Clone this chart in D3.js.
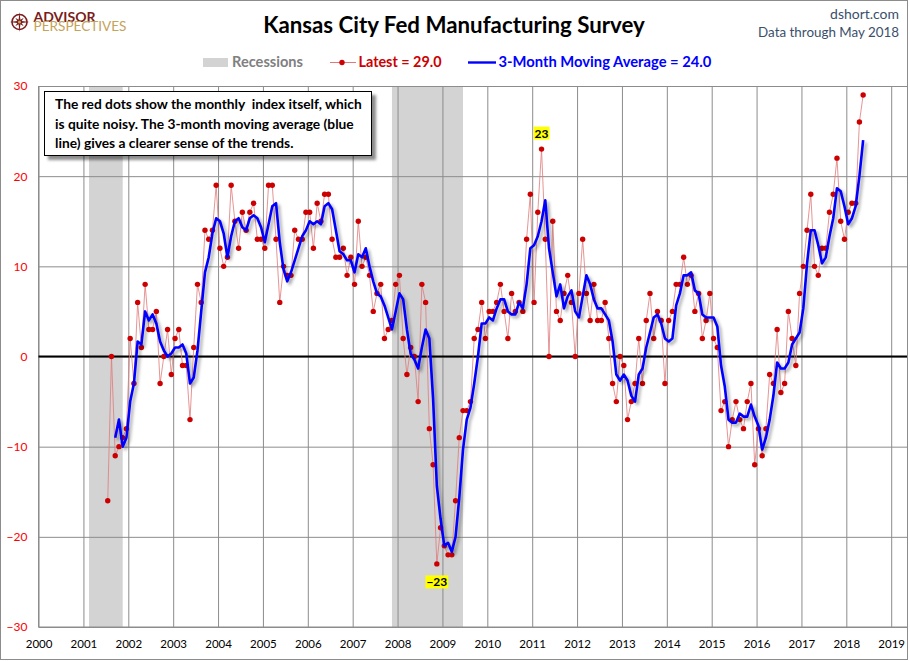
<!DOCTYPE html>
<html><head><meta charset="utf-8">
<script src="https://cdn.jsdelivr.net/npm/d3@7/dist/d3.min.js"></script>
<style>
body{margin:0;background:#fff}
svg{display:block}
text{font-family:Lato,"Open Sans","Noto Sans",sans-serif}
</style>
</head><body>
<svg id="chart" width="910" height="661"></svg>
<script>
// ---------------- DATA ----------------
const startYear = 2001, startMonth = 7;   // first observation: July 2001
// Kansas City Fed Manufacturing composite index, monthly
const values = [
  -16, 0, -11, -10, -9, -8,                       // 2001 (Jul-Dec)
  2, -3, 6, 1, 8, 3, 3, 5, -3, 0, 3, -2,          // 2002
  2, 3, -1, -1, -7, 1, 8, 6, 14, 13, 14, 19,      // 2003
  12, 10, 11, 19, 15, 12, 16, 14, 16, 17, 13, 13, // 2004
  12, 19, 19, 13, 6, 10, 9, 9, 14, 13, 13, 16,    // 2005
  16, 12, 17, 15, 18, 18, 13, 11, 11, 12, 9, 11,  // 2006
  8, 15, 10, 11, 9, 5, 7, 8, 2, 3, 4, 8,          // 2007
  9, 2, -2, 1, 0, -5, 8, 6, -8, -12, -23, -19,    // 2008
  -21, -22, -22, -16, -9, -6, -6, -5, 2, 3, 6, 2, // 2009
  5, 5, 6, 8, 5, 2, 7, 5, 6, 5, 13, 18,           // 2010
  6, 16, 23, 13, 0, 15, 5, 4, 7, 9, 6, 0,         // 2011
  7, 13, 7, 4, 8, 4, 4, 6, 2, -3, -5, 0,          // 2012
  -1, -7, -5, -3, 2, -3, 4, 7, 2, 5, 4, -3,       // 2013
  4, 5, 8, 8, 11, 8, 9, 5, 7, 2, 4, 7,            // 2014
  2, 1, -6, -5, -10, -7, -5, -7, -8, -5, -3, -12, // 2015
  -8, -11, -8, -2, -3, 3, -4, -3, 5, 2, -1, 7,    // 2016
  10, 14, 18, 10, 9, 12, 12, 16, 18, 22, 15, 13,  // 2017
  16, 17, 17, 26, 29                              // 2018 (Jan-May)
];
// NBER recessions: [peakYear, peakMonth, troughYear, troughMonth]
const recessions = [[2001, 3, 2001, 11], [2007, 12, 2009, 6]];
// highlighted observations: [year, month, placement]
const callouts = [[2011, 3, "above"], [2008, 11, "below"]];
const yTicks = [-30, -20, -10, 0, 10, 20, 30];
const xTicks = d3.range(2000, 2020);
const titleText = "Kansas City Fed Manufacturing Survey";
const noteLines = [
  "The red dots show the monthly  index itself, which",
  "is quite noisy. The 3-month moving average (blue",
  "line) gives a clearer sense of the trends."
];

// derived: 3-month moving average of the index (as defined in the legend)
const series = values.map((v, i) => ({
  t: startYear + (startMonth - 1 + i + 0.5) / 12,
  v: v,
  ma: i >= 2 ? (values[i] + values[i - 1] + values[i - 2]) / 3 : null
}));

// ---------------- LAYOUT ----------------
const svg = d3.select("#chart");
const P = {left: 38.5, right: 907, top: 86, bottom: 627};
const x = d3.scaleLinear().domain([2000, 2019]).range([38.55, 891.2]);
const y = d3.scaleLinear().domain([-30, 30]).range([P.bottom, P.top]);

const defs = svg.append("defs");
const sh = defs.append("filter").attr("id", "shadow").attr("x", "-5%").attr("y", "-5%").attr("width", "115%").attr("height", "115%");
sh.append("feDropShadow").attr("dx", 2.5).attr("dy", 2.5).attr("stdDeviation", 1.6)
  .attr("flood-color", "#000").attr("flood-opacity", 0.35);
const bsh = defs.append("filter").attr("id", "boxshadow").attr("x", "-5%").attr("y", "-10%").attr("width", "115%").attr("height", "130%");
bsh.append("feDropShadow").attr("dx", 4).attr("dy", 4).attr("stdDeviation", 1.5)
  .attr("flood-color", "#000").attr("flood-opacity", 0.45);
defs.append("clipPath").attr("id", "plotclip").append("rect")
  .attr("x", P.left).attr("y", P.top).attr("width", P.right - P.left).attr("height", P.bottom - P.top);

function fit(sel, w) {
  const L = sel.node().getComputedTextLength();
  const fs = parseFloat(sel.attr("font-size"));
  if (L > 0) sel.attr("font-size", fs * w / L);
  return sel;
}

// recession bands
const monthPos = (yr, m, off) => x(yr + (m - 1 + off) / 12);
svg.append("g").selectAll("rect").data(recessions).join("rect")
  .attr("x", d => monthPos(d[0], d[1], -0.5))
  .attr("width", d => monthPos(d[2], d[3], 0.5) - monthPos(d[0], d[1], -0.5))
  .attr("y", P.top).attr("height", P.bottom - P.top)
  .attr("fill", "#d3d3d3");

// gridlines + axes
const gx = svg.append("g").attr("transform", `translate(0,${P.bottom})`)
  .call(d3.axisBottom(x).tickValues(xTicks).tickFormat(d3.format("d"))
    .tickSize(-(P.bottom - P.top)).tickPadding(13));
gx.select(".domain").remove();
gx.selectAll("line").attr("stroke", "#8c8c8c");
gx.selectAll("text").attr("font-size", 11.5).attr("fill", "#000").attr("font-family", "Lato, sans-serif");

const gy = svg.append("g").attr("transform", `translate(${P.left},0)`)
  .call(d3.axisLeft(y).tickValues(yTicks).tickSize(-(P.right - P.left)).tickPadding(11));
gy.select(".domain").remove();
gy.selectAll("line").attr("stroke", "#8c8c8c");
gy.selectAll("text").attr("font-size", 12).attr("fill", "#ff0000").attr("font-family", "Lato, sans-serif");

// left and bottom axis lines
svg.append("line").attr("x1", P.left).attr("x2", P.left).attr("y1", P.top).attr("y2", P.bottom).attr("stroke", "#8c8c8c");
svg.append("line").attr("x1", P.left).attr("x2", P.right).attr("y1", P.bottom).attr("y2", P.bottom).attr("stroke", "#8c8c8c");
// zero line
svg.append("line").attr("x1", P.left).attr("x2", P.right).attr("y1", y(0)).attr("y2", y(0))
  .attr("stroke", "#000").attr("stroke-width", 2);

// series
const plot = svg.append("g").attr("clip-path", "url(#plotclip)");
plot.append("path").datum(series)
  .attr("d", d3.line().x(d => x(d.t)).y(d => y(d.v)))
  .attr("fill", "none").attr("stroke", "#e07a7a").attr("stroke-width", 1).attr("opacity", 0.8);
plot.append("g").selectAll("circle").data(series).join("circle")
  .attr("cx", d => x(d.t)).attr("cy", d => y(d.v)).attr("r", 2.7).attr("fill", "#cc0000");
plot.append("path").datum(series.filter(d => d.ma !== null))
  .attr("d", d3.line().x(d => x(d.t)).y(d => y(d.ma)))
  .attr("fill", "none").attr("stroke", "#0000ff").attr("stroke-width", 2.6)
  .attr("stroke-linejoin", "round").attr("filter", "url(#shadow)");

// callout labels
callouts.forEach(c => {
  const d = series[(c[0] - startYear) * 12 + (c[1] - startMonth)];
  const dy = c[2] === "above" ? -16 : 18;
  const g = svg.append("g");
  const t = g.append("text").attr("x", x(d.t)).attr("y", y(d.v) + dy)
    .attr("text-anchor", "middle").attr("dominant-baseline", "central")
    .attr("font-size", 12).attr("font-weight", "bold").attr("fill", "#000").text(d3.format("d")(d.v));
  const b = t.node().getBBox();
  g.insert("rect", "text").attr("x", b.x - 1).attr("y", y(d.v) + dy - 6.5)
    .attr("width", b.width + 2).attr("height", 13).attr("fill", "#ffff00");
});

// note box
const box = svg.append("g");
box.append("rect").attr("x", 44.5).attr("y", 91.5).attr("width", 327).attr("height", 64)
  .attr("fill", "#fff").attr("stroke", "#000").attr("stroke-width", 1).attr("filter", "url(#boxshadow)");
const nl = box.selectAll("text").data(noteLines).join("text")
  .attr("x", 55).attr("y", (d, i) => 109 + i * 19.5).style("white-space", "pre")
  .attr("font-size", 13).attr("font-weight", "bold").attr("fill", "#000").text(d => d);
fit(d3.select(nl.nodes()[0]), 307);
const nfs = d3.select(nl.nodes()[0]).attr("font-size");
nl.attr("font-size", nfs);

// title & header
fit(svg.append("text").attr("x", 454).attr("y", 33).attr("text-anchor", "middle")
  .attr("font-size", 22).attr("font-weight", "bold").attr("fill", "#000").text(titleText), 382);
fit(svg.append("text").attr("x", 899).attr("y", 18.5).attr("text-anchor", "end")
  .attr("font-size", 14).attr("fill", "#3a4f6b").text("dshort.com"), 69);
fit(svg.append("text").attr("x", 899).attr("y", 36.5).attr("text-anchor", "end")
  .attr("font-size", 14).attr("fill", "#3a4f6b").text("Data through May 2018"), 141);

// logo
const logo = svg.append("g");
logo.append("circle").attr("cx", 19.5).attr("cy", 22).attr("r", 7.5).attr("fill", "none").attr("stroke", "#7b1c1c").attr("stroke-width", 1.6);
const star = [];
for (let k = 0; k < 16; k++) {
  const a = k * Math.PI / 8 - Math.PI / 2;
  const r = k % 4 === 0 ? 10 : (k % 2 === 0 ? 6 : 2.4);
  star.push([19.5 + r * Math.cos(a), 22 + r * Math.sin(a)]);
}
logo.append("polygon").attr("points", star.map(p => p.join(",")).join(" ")).attr("fill", "#7b1c1c");
logo.append("circle").attr("cx", 19.5).attr("cy", 22).attr("r", 1.6).attr("fill", "#c9a45c");
const lt = logo.append("text").attr("x", 33.5).attr("y", 21.5);
lt.append("tspan").attr("x", 33.5).attr("y", 21.5).attr("font-size", 14).attr("font-weight", "bold")
  .attr("fill", "#7b1c1c").attr("textLength", 62).attr("lengthAdjust", "spacingAndGlyphs").text("ADVISOR");
lt.append("tspan").attr("x", 33.5).attr("y", 31).attr("font-size", 13.5)
  .attr("fill", "#c4a35a").attr("textLength", 93).attr("lengthAdjust", "spacingAndGlyphs").text("PERSPECTIVES");

// legend
const leg = svg.append("g");
leg.append("rect").attr("x", 203).attr("y", 58).attr("width", 25).attr("height", 9).attr("fill", "#d3d3d3");
fit(leg.append("text").attr("x", 232).attr("y", 67).attr("font-size", 13).attr("font-weight", "bold")
  .attr("fill", "#808080").text("Recessions"), 71);
leg.append("line").attr("x1", 330).attr("x2", 356).attr("y1", 62.5).attr("y2", 62.5).attr("stroke", "#e07a7a").attr("stroke-width", 1);
leg.append("circle").attr("cx", 342).attr("cy", 62.5).attr("r", 2.7).attr("fill", "#cc0000");
fit(leg.append("text").attr("x", 358.5).attr("y", 67).attr("font-size", 13).attr("font-weight", "bold")
  .attr("fill", "#cc0000").text("Latest = " + values[values.length - 1].toFixed(1)), 83);
leg.append("line").attr("x1", 468).attr("x2", 496).attr("y1", 62.5).attr("y2", 62.5).attr("stroke", "#0000ff").attr("stroke-width", 2.4);
fit(leg.append("text").attr("x", 498.5).attr("y", 67).attr("font-size", 13).attr("font-weight", "bold")
  .attr("fill", "#0000ff").text("3-Month Moving Average = " + series[series.length - 1].ma.toFixed(1)), 213);

// outer border
svg.append("rect").attr("x", 0.5).attr("y", 0.5).attr("width", 907).attr("height", 659)
  .attr("fill", "none").attr("stroke", "#8c8c8c");
</script>
</body></html>
